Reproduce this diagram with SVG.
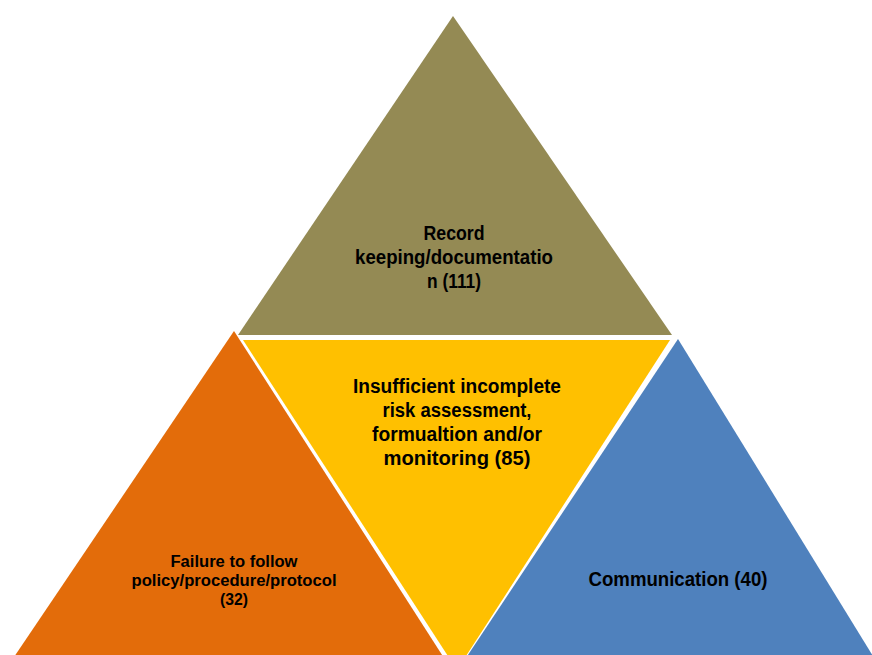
<svg xmlns="http://www.w3.org/2000/svg" width="872" height="655" viewBox="0 0 872 655">
<style>
  .lbl { font-family: "Liberation Sans", Arial, sans-serif; font-weight: bold; fill: #000; text-anchor: middle; }
  .big { font-size: 20px; }
  .small { font-size: 16px; }
</style>
<rect width="872" height="655" fill="#FFFFFF"/>
<g id="record">
  <polygon points="453,16 238,335 672,335" fill="#948A54"/>
  <text class="lbl big" x="454" y="240" textLength="61" lengthAdjust="spacingAndGlyphs">Record</text>
  <text class="lbl big" x="454" y="264" textLength="198" lengthAdjust="spacingAndGlyphs">keeping/documentatio</text>
  <text class="lbl big" x="454" y="288" textLength="54" lengthAdjust="spacingAndGlyphs">n (111)</text>
</g>
<g id="failure">
  <polygon points="234,331 -15,700 471,700" fill="#E36C0A"/>
  <text class="lbl small" x="234" y="567" textLength="127" lengthAdjust="spacingAndGlyphs">Failure to follow</text>
  <text class="lbl small" x="234" y="586" textLength="205" lengthAdjust="spacingAndGlyphs">policy/procedure/protocol</text>
  <text class="lbl small" x="234" y="605" textLength="28" lengthAdjust="spacingAndGlyphs">(32)</text>
</g>
<g id="insufficient">
  <polygon points="243,340 670,340 457,670" fill="#FFC000"/>
  <text class="lbl big" x="457" y="393" textLength="208" lengthAdjust="spacingAndGlyphs">Insufficient incomplete</text>
  <text class="lbl big" x="457" y="417" textLength="149" lengthAdjust="spacingAndGlyphs">risk assessment,</text>
  <text class="lbl big" x="457" y="441" textLength="170" lengthAdjust="spacingAndGlyphs">formualtion and/or</text>
  <text class="lbl big" x="457" y="465" textLength="147" lengthAdjust="spacingAndGlyphs">monitoring (85)</text>
</g>
<g id="communication">
  <polygon points="678,339 438,700 900,700" fill="#4F81BD"/>
  <text class="lbl big" x="678" y="586" textLength="179" lengthAdjust="spacingAndGlyphs">Communication (40)</text>
</g>
<g id="connectors"></g>
</svg>
